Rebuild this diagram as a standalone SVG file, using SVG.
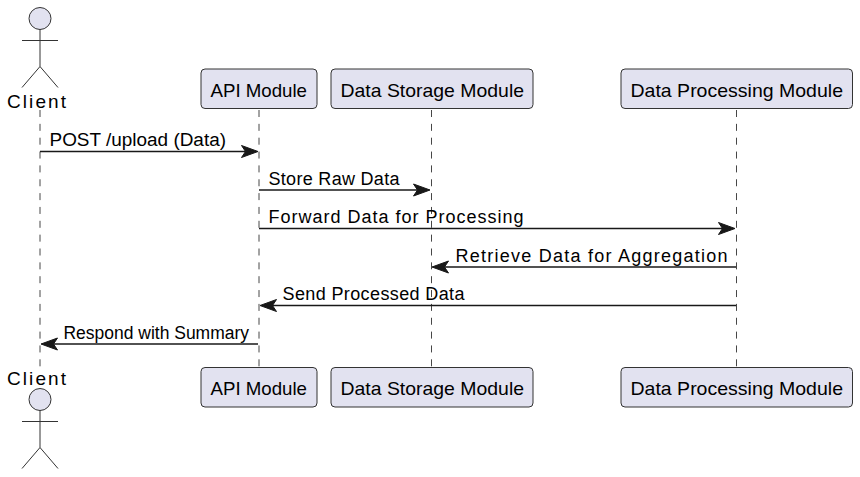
<svg xmlns="http://www.w3.org/2000/svg" width="860" height="477" viewBox="0 0 860 477">
<defs>
<style>
text{font-family:"Liberation Sans",Arial,sans-serif;font-size:18px;fill:#000}
.big{font-size:19px}
.name{font-size:19px}
.box{fill:#E2E2F0;stroke:#333;stroke-width:1}
.life{stroke:#181818;stroke-width:.8;stroke-dasharray:7 6.850;fill:none}
.act{fill:#E2E2F0;stroke:#333;stroke-width:1}
.lim{fill:none;stroke:#333;stroke-width:1}
.msg{stroke:#181818;stroke-width:1.4;fill:none}
.head{fill:#181818;stroke:#181818;stroke-width:1}
</style>
<path id="limbs" class="lim" d="M0 0V37M-18 11H18M0 37L-18 58M0 37L18 58"/>
</defs>
<g id="connectors">
<line class="life" x1="40" y1="110" x2="40" y2="367"/>
<line class="life" x1="259" y1="110" x2="259" y2="367"/>
<line class="life" x1="431.500" y1="110" x2="431.500" y2="367"/>
<line class="life" x1="736.500" y1="110" x2="736.500" y2="367"/>
<line class="msg" x1="40" y1="151.500" x2="250" y2="151.500"/><path class="head" d="M258 151.500L241.500 145.500L245.500 151.500L241.500 157.500Z"/>
<line class="msg" x1="259" y1="190" x2="422" y2="190"/><path class="head" d="M430 190L413.500 184L417.500 190L413.500 196Z"/>
<line class="msg" x1="259" y1="228.500" x2="727" y2="228.500"/><path class="head" d="M735 228.500L718.500 222.500L722.500 228.500L718.500 234.500Z"/>
<line class="msg" x1="440" y1="267" x2="736" y2="267"/><path class="head" d="M432 267L448.500 261L444.500 267L448.500 273Z"/>
<line class="msg" x1="268" y1="305.500" x2="736" y2="305.500"/><path class="head" d="M260 305.500L276.500 299.500L272.500 305.500L276.500 311.500Z"/>
<line class="msg" x1="49" y1="344" x2="258" y2="344"/><path class="head" d="M41 344L57.500 338L53.500 344L57.500 350Z"/>
<text x="49.500" y="146" textLength="176.500" lengthAdjust="spacingAndGlyphs">POST /upload (Data)</text>
<text x="268.500" y="185" textLength="131">Store Raw Data</text>
<text x="268.500" y="223" textLength="255">Forward Data for Processing</text>
<text x="455.500" y="262" textLength="272">Retrieve Data for Aggregation</text>
<text x="282.500" y="300" textLength="182">Send Processed Data</text>
<text x="63.500" y="339" textLength="185.500" lengthAdjust="spacingAndGlyphs">Respond with Summary</text>
</g>
<g id="client-top">
<circle class="act" cx="40" cy="18.500" r="11"/>
<use href="#limbs" x="40" y="29.500"/>
<text class="name" x="7" y="108" textLength="59">Client</text>
</g>
<g id="api-top"><rect class="box" x="201" y="69" width="116" height="39.500" rx="4"/><text class="big" x="210.500" y="97" textLength="96.500" lengthAdjust="spacingAndGlyphs">API Module</text></g>
<g id="storage-top"><rect class="box" x="331" y="69" width="202" height="39.500" rx="4"/><text class="big" x="340.500" y="97" textLength="183.500" lengthAdjust="spacingAndGlyphs">Data Storage Module</text></g>
<g id="processing-top"><rect class="box" x="621" y="69" width="231.500" height="39.500" rx="4"/><text class="big" x="630.500" y="97" textLength="212.500" lengthAdjust="spacingAndGlyphs">Data Processing Module</text></g>
<g id="client-bottom">
<text class="name" x="7" y="385" textLength="59">Client</text>
<circle class="act" cx="40" cy="399.500" r="11"/>
<use href="#limbs" x="40" y="410.500"/>
</g>
<g id="api-bottom"><rect class="box" x="201" y="367.500" width="116" height="39.500" rx="4"/><text class="big" x="210.500" y="395" textLength="96.500" lengthAdjust="spacingAndGlyphs">API Module</text></g>
<g id="storage-bottom"><rect class="box" x="331" y="367.500" width="202" height="39.500" rx="4"/><text class="big" x="340.500" y="395" textLength="183.500" lengthAdjust="spacingAndGlyphs">Data Storage Module</text></g>
<g id="processing-bottom"><rect class="box" x="621" y="367.500" width="231.500" height="39.500" rx="4"/><text class="big" x="630.500" y="395" textLength="212.500" lengthAdjust="spacingAndGlyphs">Data Processing Module</text></g>
</svg>
